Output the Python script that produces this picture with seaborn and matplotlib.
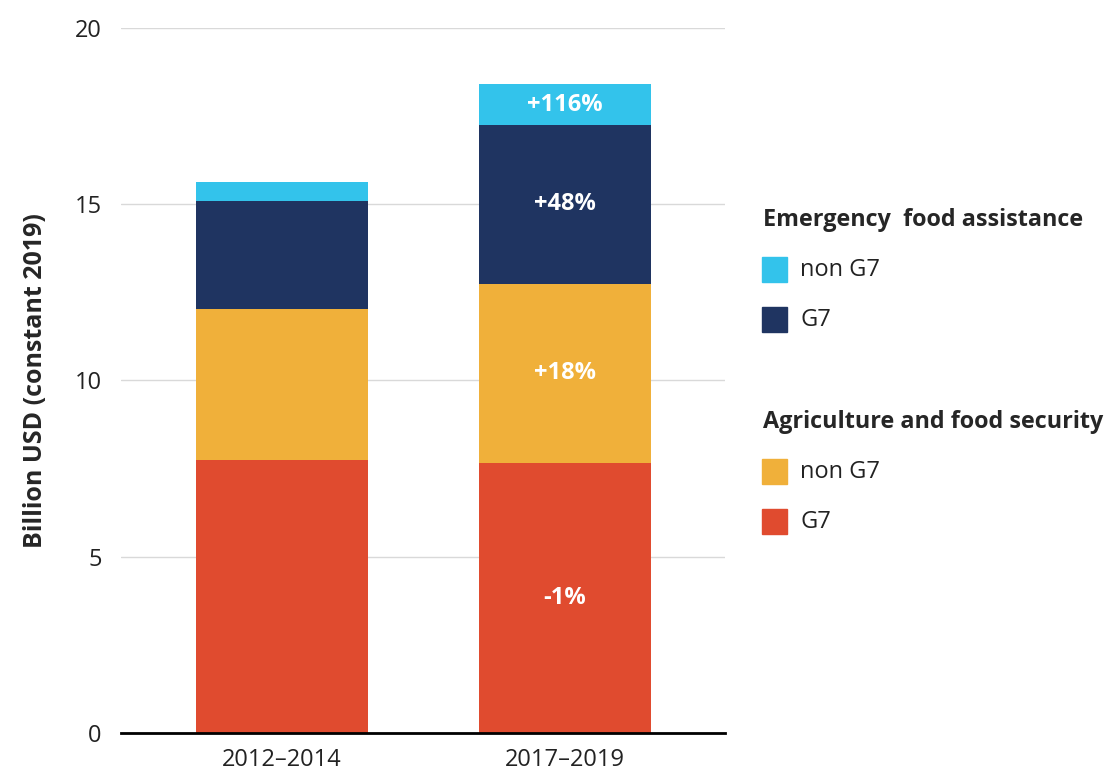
import numpy as np
import pandas as pd
import matplotlib
matplotlib.use("Agg")
import matplotlib.pyplot as plt
import seaborn as sns
from matplotlib.patches import Rectangle

# values (billion USD, constant 2019)
periods = ["2012\u20132014", "2017\u20132019"]
agri_g7 = [7.74, 7.66]
agri_non_g7 = [4.29, 5.08]
emerg_g7 = [3.06, 4.51]
emerg_non_g7 = [0.54, 1.16]
change_labels = ["-1%", "+18%", "+48%", "+116%"]

layer_names = ["agri_g7", "agri_non_g7", "emerg_g7", "emerg_non_g7"]
layer_colors = ["#E04B2F", "#F0B03A", "#1F3461", "#33C3EB"]

sns.set_style("white")
plt.rcParams["font.family"] = ["Open Sans", "DejaVu Sans"]

df = pd.DataFrame({"period": periods, "agri_g7": agri_g7, "agri_non_g7": agri_non_g7,
                   "emerg_g7": emerg_g7, "emerg_non_g7": emerg_non_g7})
cum = df[layer_names].cumsum(axis=1)
cum["period"] = df["period"]

fig = plt.figure(figsize=(11.05, 7.74), dpi=100)
ax = fig.add_axes([0.1095, 0.053, 0.5465, 0.9108])

# stacked bars: draw cumulative totals from the top layer down
for name, color in reversed(list(zip(layer_names, layer_colors))):
    sns.barplot(data=cum, x="period", y=name, color=color, width=0.61,
                saturation=1, linewidth=0, ax=ax, zorder=2)

# change labels on the second bar
bottoms = cum[layer_names].iloc[1].values - df[layer_names].iloc[1].values
for i, name in enumerate(layer_names):
    mid = bottoms[i] + df[name].iloc[1] / 2
    ax.text(1, mid, change_labels[i], ha="center", va="center", color="white",
            fontsize=17, fontweight="bold", zorder=3)

ax.set_ylim(0, 20)
ax.set_xlim(-0.569, 1.565)
ax.set_yticks([0, 5, 10, 15, 20])
ax.yaxis.grid(True, color="#d9d9d9", linewidth=1, zorder=0)
ax.set_axisbelow(True)
for s in ["left", "right", "top"]:
    ax.spines[s].set_visible(False)
ax.spines["bottom"].set_color("black")
ax.spines["bottom"].set_linewidth(2)
ax.tick_params(axis="both", length=0, labelsize=17, colors="#222222")
ax.tick_params(axis="y", pad=14)
ax.tick_params(axis="x", pad=11)
ax.set_xlabel("")
ax.set_ylabel("Billion USD (constant 2019)", fontsize=18, fontweight="bold", labelpad=19)

# legend built by hand
W, H = 1105.0, 774.0
def fx(px):
    return px / W
def fy(py):
    return 1 - py / H

groups = [("Emergency  food assistance", 220, [(layer_colors[3], "non G7", 270), (layer_colors[2], "G7", 320)]),
          ("Agriculture and food security", 422, [(layer_colors[1], "non G7", 472), (layer_colors[0], "G7", 522)])]
for title, ty, items in groups:
    fig.text(fx(763), fy(ty), title, fontsize=16.8, fontweight="bold", va="center", ha="left")
    for color, label, iy in items:
        fig.patches.append(Rectangle((fx(762), fy(iy + 12)), 25 / W, 25 / H, color=color,
                                     transform=fig.transFigure, figure=fig))
        fig.text(fx(800), fy(iy), label, fontsize=17, va="center", ha="left", color="#222222")

fig.savefig("out.png", dpi=100)
